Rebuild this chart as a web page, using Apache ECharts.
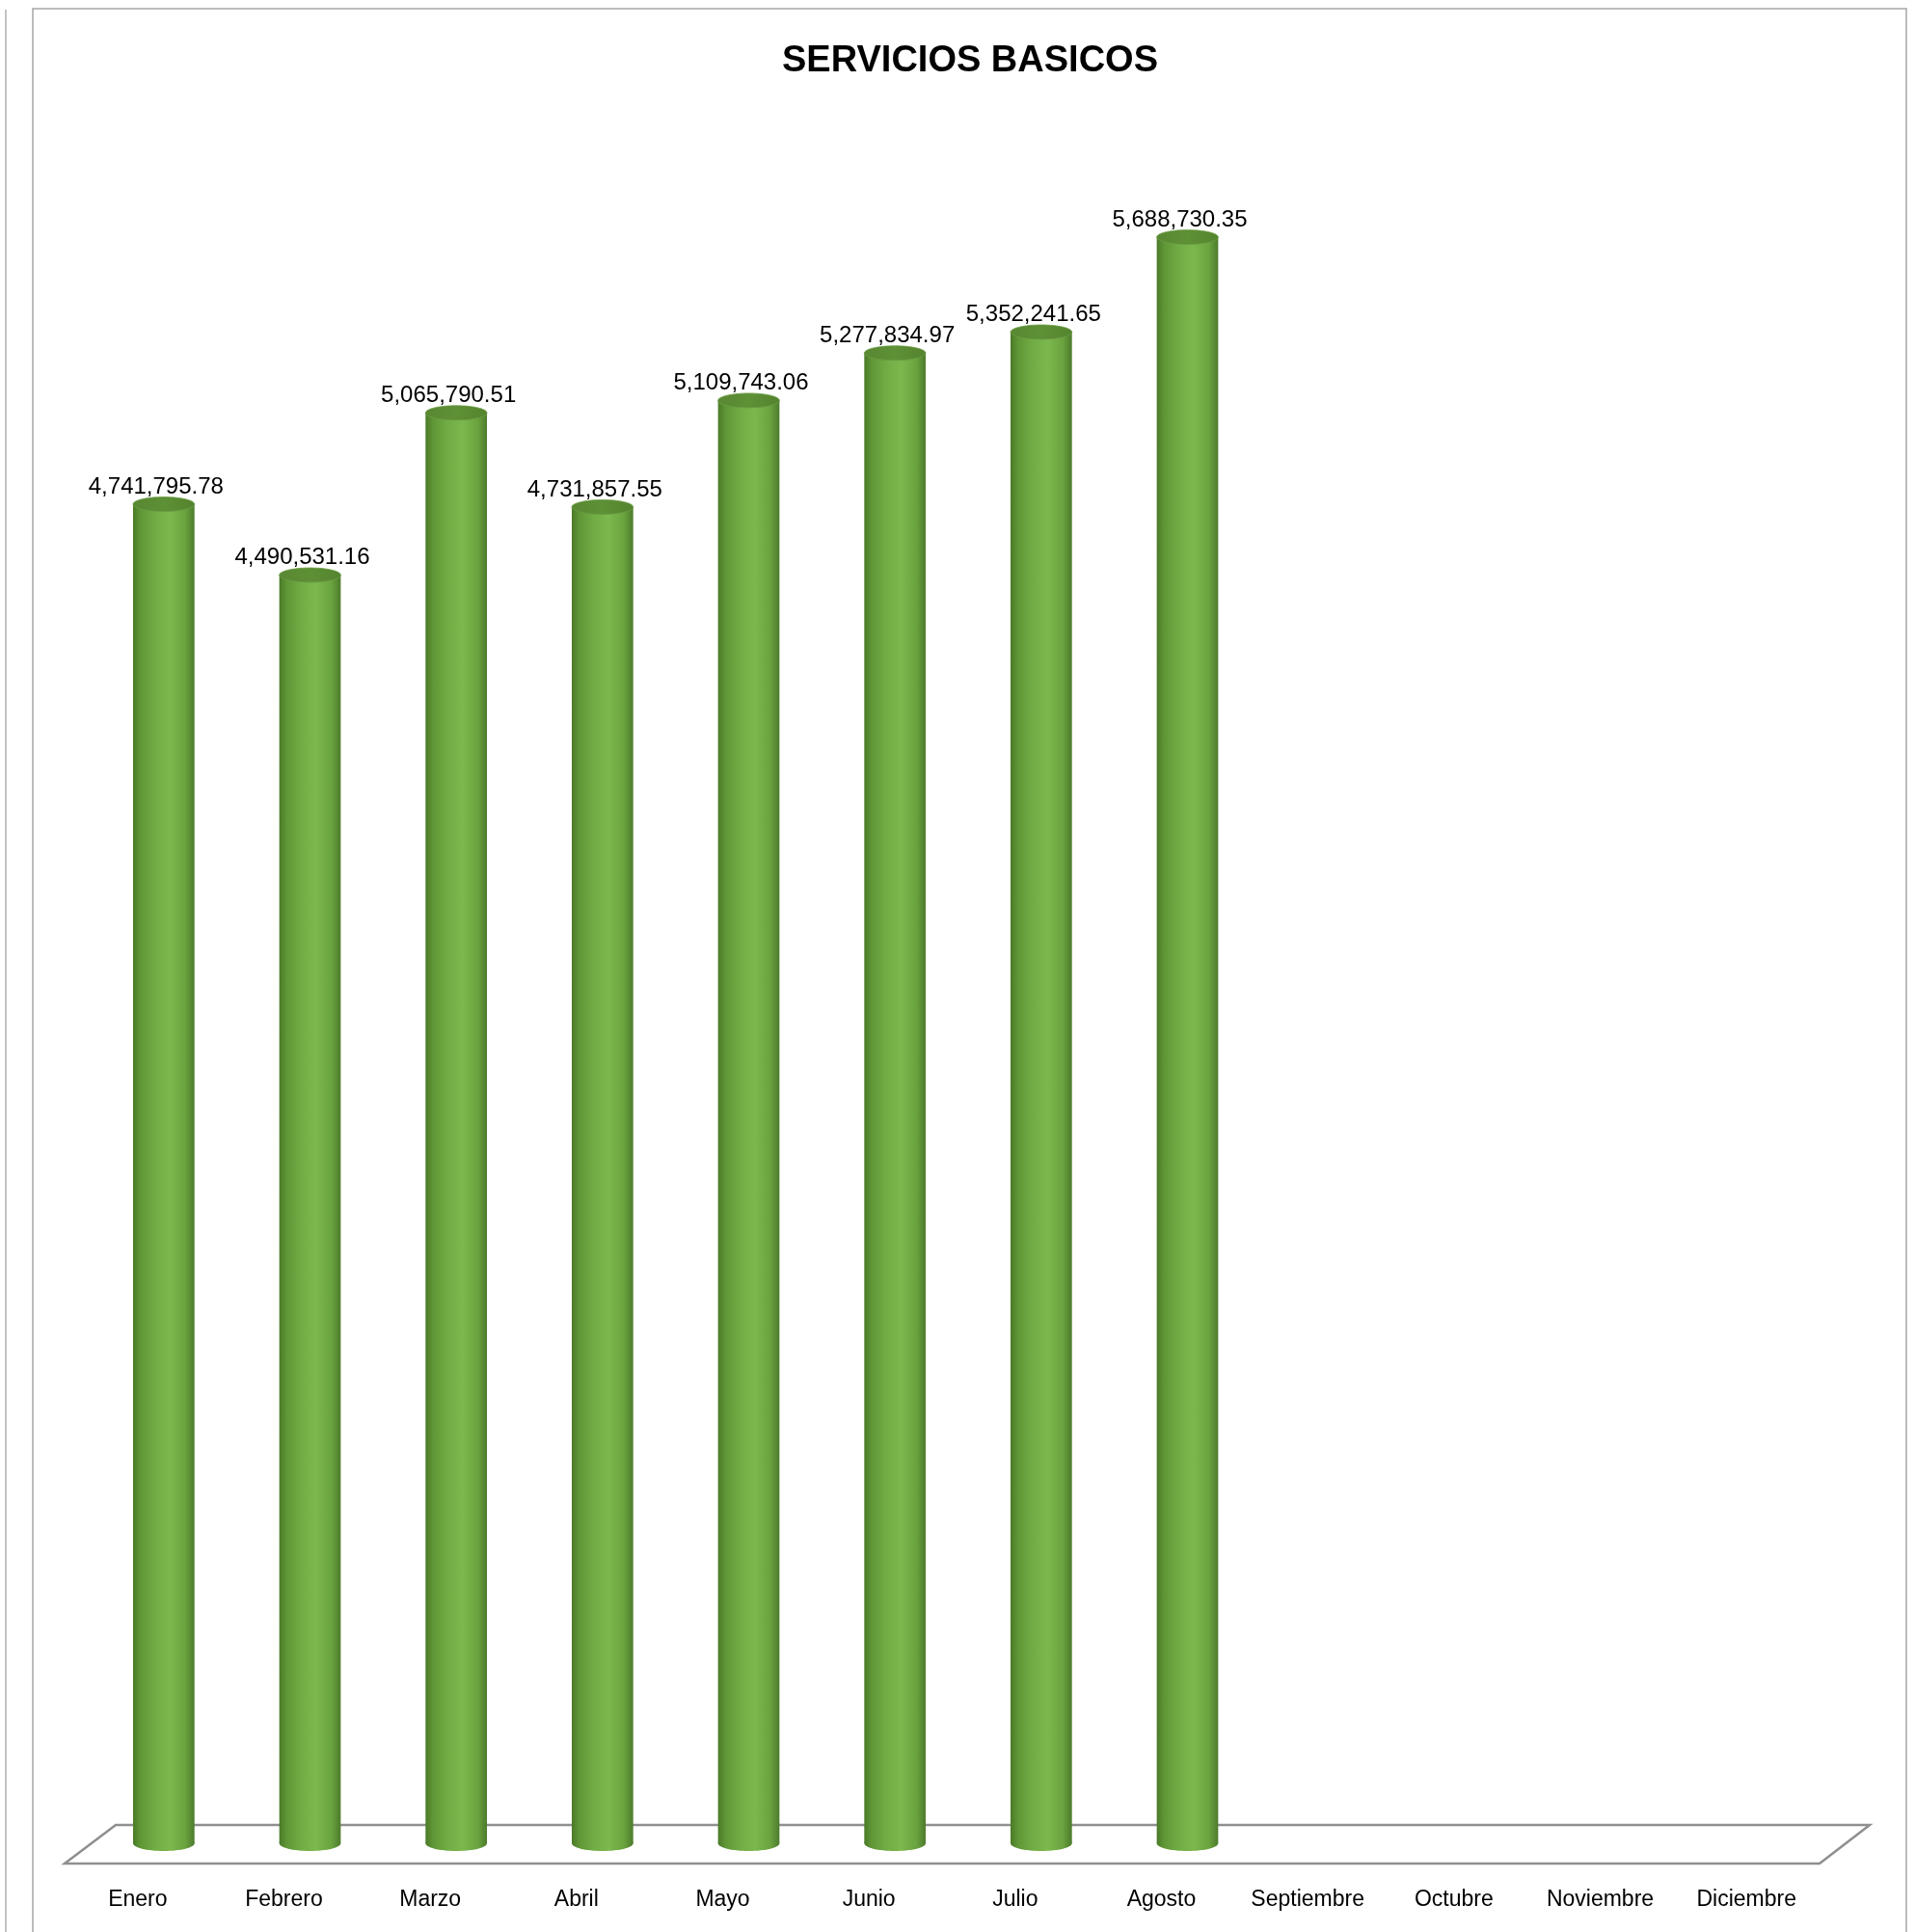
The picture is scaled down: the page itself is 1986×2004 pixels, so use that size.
<!DOCTYPE html>
<html>
<head>
<meta charset="utf-8">
<script src="https://cdn.jsdelivr.net/npm/echarts@6/dist/echarts.min.js"></script>
<style>
html,body{margin:0;padding:0;background:#fff;}
#chart{width:1986px;height:2004px;}
</style>
</head>
<body>
<div id="chart"></div>
<script>
const categories = ['Enero','Febrero','Marzo','Abril','Mayo','Junio','Julio','Agosto','Septiembre','Octubre','Noviembre','Diciembre'];
const values = [4741795.78, 4490531.16, 5065790.51, 4731857.55, 5109743.06, 5277834.97, 5352241.65, 5688730.35];
const titleText = 'SERVICIOS BASICOS';

const FONT = '"Liberation Sans", Arial, sans-serif';
const chart = echarts.init(document.getElementById('chart'), null, {renderer: 'canvas'});

function fmt(v) {
  return v.toLocaleString('en-US', {minimumFractionDigits: 2, maximumFractionDigits: 2});
}

const bodyGrad = () => new echarts.graphic.LinearGradient(0, 0, 1, 0, [
  {offset: 0, color: '#4a7a28'},
  {offset: 0.12, color: '#5f9636'},
  {offset: 0.35, color: '#70ac44'},
  {offset: 0.6, color: '#7bb84d'},
  {offset: 0.85, color: '#6aa33f'},
  {offset: 1, color: '#4c7b2b'}
]);
const topGrad = () => new echarts.graphic.LinearGradient(0, 0, 1, 0, [
  {offset: 0, color: '#588832'},
  {offset: 0.5, color: '#5e9036'},
  {offset: 1, color: '#54842e'}
]);

const barData = values.map((v, i) => [i, v]);

const option = {
  animation: false,
  backgroundColor: '#ffffff',
  grid: {left: 67, right: 99, top: 155, bottom: 94},
  xAxis: {
    type: 'category',
    data: categories,
    axisLine: {show: false},
    axisTick: {show: false},
    axisLabel: {fontFamily: FONT, fontSize: 23, color: '#000', margin: 49, interval: 0}
  },
  yAxis: {
    type: 'value', min: 0, max: 6000000,
    show: false, splitLine: {show: false}
  },
  graphic: [
    {type: 'line', shape: {x1: 6, y1: 10, x2: 6, y2: 2004}, style: {stroke: '#b0b0b0', lineWidth: 1.5}},
    {type: 'rect', shape: {x: 34, y: 9, width: 1943, height: 2010}, style: {stroke: '#a6a6a6', lineWidth: 1.5, fill: 'none'}},
    {type: 'text', x: 1006, y: 64, style: {text: titleText, align: 'center', verticalAlign: 'middle', font: 'bold 38px ' + FONT, fill: '#000'}}
  ],
  series: [
    {
      type: 'custom',
      z: 1,
      data: [[0, 0]],
      renderItem: function (params, api) {
        const cs = params.coordSys;
        const base = api.coord([0, 0])[1];
        const x0 = cs.x, x1 = cs.x + cs.width;
        return {
          type: 'polygon',
          shape: {points: [[x0, base + 23], [x0 + 53, base - 17], [x1 + 52, base - 17], [x1, base + 23]]},
          style: {fill: '#ffffff', stroke: '#8f8f8f', lineWidth: 2.5}
        };
      },
      silent: true
    },
    {
      type: 'custom',
      z: 2,
      data: barData,
      renderItem: function (params, api) {
        const idx = api.value(0);
        const val = api.value(1);
        const top = api.coord([idx, val]);
        const bot = api.coord([idx, 0]);
        const band = api.size([1, 0])[0];
        const w = band * 0.42;
        const cx = top[0] + band * 0.178;
        const ty = top[1];
        const by = bot[1] + 2;
        return {
          type: 'group',
          children: [
            {type: 'ellipse', shape: {cx: cx, cy: by, rx: w / 2, ry: 8}, style: {fill: bodyGrad()}},
            {type: 'rect', shape: {x: cx - w / 2, y: ty, width: w, height: by - ty}, style: {fill: bodyGrad()}},
            {type: 'ellipse', shape: {cx: cx, cy: ty, rx: w / 2, ry: 7.5}, style: {fill: topGrad(), stroke: '#6c9c45', lineWidth: 0.8}},
            {type: 'text', x: cx - 8, y: ty - 18, style: {text: fmt(val), align: 'center', verticalAlign: 'middle', font: '24px ' + FONT, fill: '#000'}}
          ]
        };
      }
    }
  ]
};
chart.setOption(option);
</script>
</body>
</html>
